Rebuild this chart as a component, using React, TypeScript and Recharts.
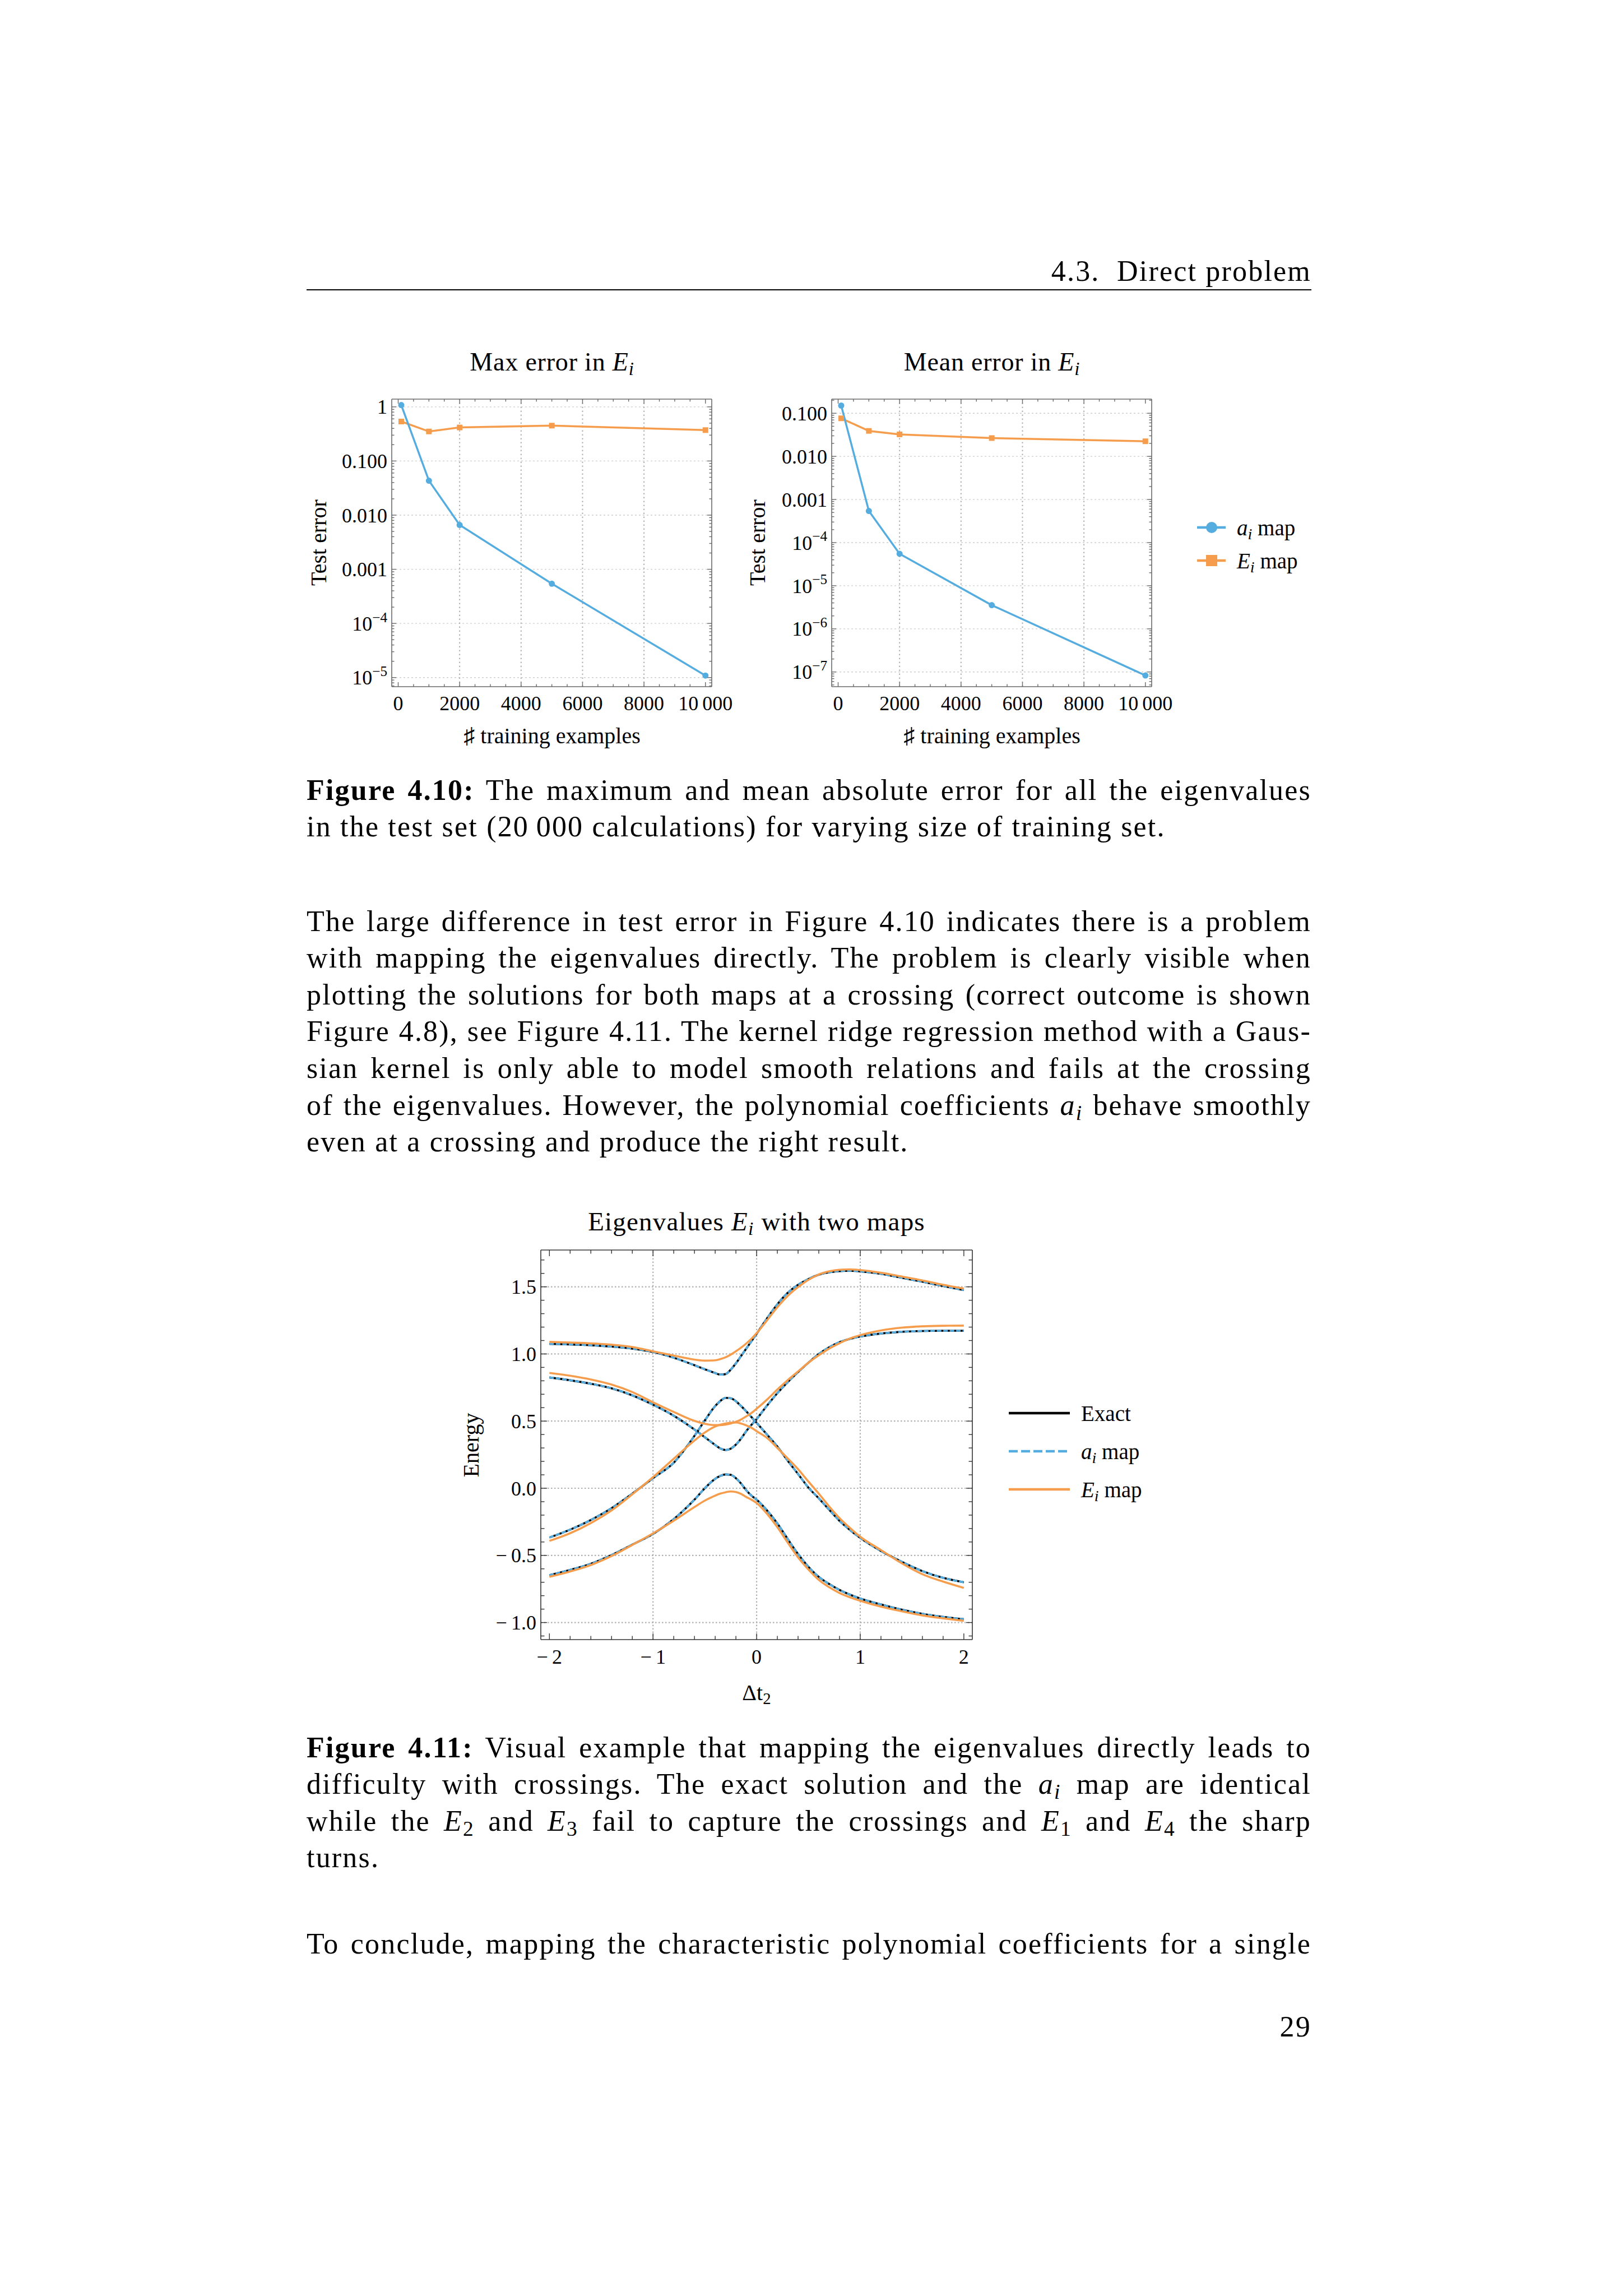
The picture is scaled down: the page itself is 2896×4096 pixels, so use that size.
import React from "react";
import { LineChart, Line, XAxis, YAxis, ReferenceLine } from "recharts";

const SERIF = '"Liberation Serif", "DejaVu Serif", serif';
const BLUE = "#55acdf";
const ORANGE = "#f59d4c";
const GRID = "#b0b0b0";
const FRAME = "#6a6a6a";

// Figure 4.10 – test error vs training set size
const TRAIN_SIZES = [100, 1000, 2000, 5000, 10000];
const MAX_AI = [1.08, 0.0433, 0.00658, 0.000542, 0.0000109];
const MAX_EI = [0.536, 0.351, 0.416, 0.45, 0.372];
const MEAN_AI = [0.151, 0.000542, 0.000055, 0.00000354, 0.000000083];
const MEAN_EI = [0.0763, 0.039, 0.0324, 0.0266, 0.0224];

const TRAIN_TICKS = [0, 2000, 4000, 6000, 8000, 10000];
const TRAIN_TICK_LABELS = ["0", "2000", "4000", "6000", "8000", "10\u2009000"];
const TRAIN_GRID = [2000, 4000, 6000, 8000];
const MAX_TICKS = [1, 0.1, 0.01, 0.001, 1e-4, 1e-5];
const MAX_TICK_LABELS = ["1", "0.100", "0.010", "0.001", "10^\u22124", "10^\u22125"];
const MEAN_TICKS = [0.1, 0.01, 0.001, 1e-4, 1e-5, 1e-6, 1e-7];
const MEAN_TICK_LABELS = ["0.100", "0.010", "0.001", "10^\u22124", "10^\u22125", "10^\u22126", "10^\u22127"];

// Figure 4.11 – eigenvalues along Δt2
const DT2 = [-2, -1.8, -1.6, -1.4, -1.2, -1, -0.8, -0.6, -0.5, -0.4, -0.35, -0.3, -0.25, -0.2, -0.15, -0.1, -0.05, 0,
  0.1, 0.2, 0.3, 0.4, 0.5, 0.6, 0.7, 0.8, 0.9, 1, 1.2, 1.4, 1.6, 1.8, 2];
const EXACT_E4 = [1.075, 1.071, 1.065, 1.055, 1.04, 1.015, 0.972, 0.916, 0.886, 0.858, 0.846, 0.85, 0.883, 0.93, 0.985, 1.04, 1.095, 1.15,
  1.265, 1.37, 1.455, 1.515, 1.558, 1.59, 1.608, 1.617, 1.62, 1.615, 1.597, 1.568, 1.538, 1.506, 1.476];
const EXACT_E3 = [0.825, 0.804, 0.778, 0.744, 0.692, 0.622, 0.54, 0.437, 0.38, 0.322, 0.296, 0.285, 0.295, 0.325, 0.37, 0.425, 0.472, 0.515,
  0.615, 0.708, 0.79, 0.865, 0.935, 1.0, 1.05, 1.088, 1.112, 1.13, 1.152, 1.165, 1.171, 1.173, 1.173];
const EXACT_E2 = [-0.367, -0.308, -0.236, -0.148, -0.04, 0.075, 0.19, 0.39, 0.505, 0.612, 0.65, 0.673, 0.67, 0.648, 0.612, 0.573, 0.53, 0.487,
  0.4, 0.31, 0.205, 0.106, 0.005, -0.075, -0.16, -0.243, -0.31, -0.37, -0.467, -0.547, -0.617, -0.667, -0.7];
const EXACT_E1 = [-0.647, -0.608, -0.562, -0.497, -0.42, -0.34, -0.23, -0.085, 0.0, 0.07, 0.092, 0.103, 0.1, 0.075, 0.035, -0.015, -0.055, -0.085,
  -0.165, -0.262, -0.378, -0.49, -0.585, -0.66, -0.713, -0.757, -0.792, -0.821, -0.865, -0.904, -0.935, -0.958, -0.975];
const EMAP_E4 = [1.09, 1.085, 1.079, 1.069, 1.052, 1.02, 0.988, 0.958, 0.95, 0.953, 0.962, 0.975, 0.995, 1.02, 1.047, 1.078, 1.113, 1.155,
  1.25, 1.348, 1.432, 1.498, 1.552, 1.592, 1.615, 1.627, 1.63, 1.625, 1.605, 1.577, 1.548, 1.515, 1.487];
const EMAP_E3 = [0.859, 0.838, 0.81, 0.772, 0.716, 0.64, 0.568, 0.502, 0.48, 0.47, 0.47, 0.474, 0.482, 0.495, 0.512, 0.535, 0.561, 0.592,
  0.66, 0.735, 0.805, 0.87, 0.935, 0.99, 1.04, 1.08, 1.115, 1.14, 1.175, 1.196, 1.206, 1.21, 1.211];
const EMAP_E2 = [-0.392, -0.335, -0.259, -0.165, -0.045, 0.083, 0.22, 0.355, 0.415, 0.46, 0.474, 0.482, 0.488, 0.49, 0.482, 0.468, 0.45, 0.425,
  0.375, 0.3, 0.222, 0.142, 0.05, -0.04, -0.135, -0.222, -0.295, -0.361, -0.46, -0.558, -0.64, -0.695, -0.742];
const EMAP_E1 = [-0.66, -0.62, -0.572, -0.505, -0.422, -0.336, -0.242, -0.14, -0.092, -0.055, -0.04, -0.03, -0.024, -0.028, -0.042, -0.065, -0.085, -0.11,
  -0.19, -0.29, -0.405, -0.515, -0.605, -0.682, -0.737, -0.78, -0.812, -0.838, -0.882, -0.916, -0.947, -0.969, -0.987];

const DT_TICKS = [-2, -1, 0, 1, 2];
const DT_TICK_LABELS = ["\u2212\u20092", "\u2212\u20091", "0", "1", "2"];
const DT_GRID = [-1, 0, 1];
const ENERGY_TICKS = [-1, -0.5, 0, 0.5, 1, 1.5];
const ENERGY_TICK_LABELS = ["\u2212\u20091.0", "\u2212\u20090.5", "0.0", "0.5", "1.0", "1.5"];

const PAD = 170;
const BODY = 52;
const BODY_SPACING = "2.2px";
const TEXT_X = 547;
const TEXT_W = 1793;

const round = (v: number) => Math.round(v * 1000) / 1000;
const steps = (from: number, to: number, step: number) =>
  Array.from({ length: Math.round((to - from) / step) + 1 }, (_, i) => round(from + i * step));
const logTicks = (lo: number, hi: number) => {
  const out: number[] = [];
  for (let e = -9; e <= 1; e++) for (let k = 1; k <= 9; k++) {
    const v = k * Math.pow(10, e);
    if (v >= lo && v <= hi) out.push(v);
  }
  return out;
};

type Side = "bottom" | "top" | "left" | "right";

function tickText(label: string, x: number, y: number, anchor: string, fs: number) {
  const [base, sup] = label.split("^");
  return (
    <text x={x} y={y} dy={fs * 0.35} textAnchor={anchor} fontSize={fs} fontFamily={SERIF} fill="#000">
      {base}
      {sup && <tspan dy={-fs * 0.42} fontSize={fs * 0.7}>{sup}</tspan>}
    </text>
  );
}

function makeTick(side: Side, majors: number[], labels: string[] | null, majorLen: number, minorLen: number, color: string, fs = 36, gap = 8) {
  return (p: any) => {
    const v = Number(p.payload.value);
    const idx = majors.findIndex((m) => Math.abs(m - v) <= Math.abs(m) * 1e-6 + 1e-12);
    const len = idx >= 0 ? majorLen : minorLen;
    const x = Number(p.x);
    const y = Number(p.y);
    const dx = side === "left" ? len : side === "right" ? -len : 0;
    const dy = side === "top" ? len : side === "bottom" ? -len : 0;
    let label = null;
    if (labels && idx >= 0) {
      if (side === "bottom") label = tickText(labels[idx], x, y + gap, "middle", fs);
      if (side === "left") label = tickText(labels[idx], x - gap, y, "end", fs);
    }
    return (
      <g>
        <line x1={x} y1={y} x2={x + dx} y2={y + dy} stroke={color} strokeWidth={1.4} />
        {label}
      </g>
    );
  };
}

const axisBase = { tickSize: 0, tickMargin: 0, tickLine: false, interval: 0 as const, allowDataOverflow: true };

function Sq(props: any) {
  const { cx, cy, index } = props;
  if (cx == null || cy == null) return <g key={`sq-${index}`} />;
  return <rect key={`sq-${index}`} x={cx - 5} y={cy - 5} width={10} height={10} fill={ORANGE} />;
}

function Label({ x, y, size, rotate, spacing, children }: { x: number; y: number; size: number; rotate?: boolean; spacing?: number; children: React.ReactNode }) {
  return (
    <div
      style={{
        position: "absolute", left: x, top: y, fontSize: size, lineHeight: 1, whiteSpace: "nowrap", fontFamily: SERIF,
        letterSpacing: spacing ? `${spacing}px` : undefined,
        transform: `translate(-50%, -50%)${rotate ? " rotate(-90deg)" : ""}`,
      }}
    >
      {children}
    </div>
  );
}

const subStyle: React.CSSProperties = { fontSize: "0.72em", verticalAlign: "-0.25em", lineHeight: 0 };
const Mi = ({ b, s, it = true }: { b: string; s: string; it?: boolean }) => (
  <span><i>{b}</i><sub style={subStyle}>{it ? <i>{s}</i> : s}</sub></span>
);

function TextLine({ baseline, justify = true, children }: { baseline: number; justify?: boolean; children: React.ReactNode }) {
  return (
    <div
      style={{
        position: "absolute", left: TEXT_X, top: baseline - 0.8375 * BODY, width: TEXT_W, fontSize: BODY,
        lineHeight: `${BODY}px`, fontFamily: SERIF, letterSpacing: BODY_SPACING,
        textAlign: justify ? "justify" : "left", textAlignLast: justify ? "justify" : "left",
      }}
    >
      {children}
    </div>
  );
}

// plot box edges are given in page pixels; axes take 1px so the margins are PAD - 1
const M = { top: PAD - 1, right: PAD - 1, bottom: PAD - 1, left: PAD - 1 };

function ErrorChart({ x0, y0, x1, y1, ai, ei, yDomain, yTicks, yLabels }: {
  x0: number; y0: number; x1: number; y1: number; ai: number[]; ei: number[];
  yDomain: [number, number]; yTicks: number[]; yLabels: string[];
}) {
  const data = TRAIN_SIZES.map((n, i) => ({ n, ai: ai[i], ei: ei[i] }));
  const xAll = steps(0, 10000, 500);
  const yAll = logTicks(yDomain[0], yDomain[1]);
  const xDomain: [number, number] = [-210, 10205];
  const line = { stroke: FRAME, strokeWidth: 1.6 };
  return (
    <div style={{ position: "absolute", left: x0 - PAD, top: y0 - PAD }}>
      <LineChart width={x1 - x0 + 2 * PAD} height={y1 - y0 + 2 * PAD} data={data} margin={M}>
        <XAxis dataKey="n" type="number" domain={xDomain} ticks={xAll} height={1} {...axisBase} axisLine={line}
          tick={makeTick("bottom", TRAIN_TICKS, TRAIN_TICK_LABELS, 8, 4.5, FRAME, 36, 29)} />
        <XAxis xAxisId="top" orientation="top" dataKey="n" type="number" domain={xDomain} ticks={xAll} height={1} {...axisBase} axisLine={line}
          tick={makeTick("top", TRAIN_TICKS, null, 8, 4.5, FRAME)} />
        <YAxis type="number" scale="log" domain={yDomain} ticks={yAll} width={1} {...axisBase} axisLine={line}
          tick={makeTick("left", yTicks, yLabels, 8, 4.5, FRAME, 36, 8)} />
        <YAxis yAxisId="right" orientation="right" type="number" scale="log" domain={yDomain} ticks={yAll} width={1} {...axisBase} axisLine={line}
          tick={makeTick("right", yTicks, null, 8, 4.5, FRAME)} />
        {yTicks.map((v) => (
          <ReferenceLine key={`h${v}`} y={v} stroke="#cdcdcd" strokeWidth={1.3} strokeDasharray="3 4" />
        ))}
        {TRAIN_GRID.map((v) => (
          <ReferenceLine key={`v${v}`} x={v} stroke={GRID} strokeWidth={2} strokeDasharray="2.5 4.5" />
        ))}
        <Line xAxisId="top" yAxisId="right" dataKey="ai" stroke="none" dot={false} activeDot={false} isAnimationActive={false} legendType="none" />
        <Line dataKey="ei" stroke={ORANGE} strokeWidth={3.5} dot={<Sq />} activeDot={false} isAnimationActive={false} />
        <Line dataKey="ai" stroke={BLUE} strokeWidth={3.5} dot={{ r: 5.5, fill: BLUE, stroke: "none" }} activeDot={false} isAnimationActive={false} />
      </LineChart>
    </div>
  );
}

function EigenChart() {
  const x0 = 965, y0 = 2230, x1 = 1735, y1 = 2925;
  const data = DT2.map((x, i) => ({
    x, e1: EXACT_E1[i], e2: EXACT_E2[i], e3: EXACT_E3[i], e4: EXACT_E4[i],
    m1: EMAP_E1[i], m2: EMAP_E2[i], m3: EMAP_E3[i], m4: EMAP_E4[i],
  }));
  const xDomain: [number, number] = [-2.083, 2.082];
  const yDomain: [number, number] = [-1.127, 1.774];
  const xAll = steps(-2, 2, 0.2);
  const yAll = steps(-1.1, 1.7, 0.1);
  const keys = ["e1", "e2", "e3", "e4"];
  const mapKeys = ["m1", "m2", "m3", "m4"];
  const line = { stroke: "#333", strokeWidth: 1.6 };
  return (
    <div style={{ position: "absolute", left: x0 - PAD, top: y0 - PAD }}>
      <LineChart width={x1 - x0 + 2 * PAD} height={y1 - y0 + 2 * PAD} data={data} margin={M}>
        <XAxis dataKey="x" type="number" domain={xDomain} ticks={xAll} height={1} {...axisBase} axisLine={line}
          tick={makeTick("bottom", DT_TICKS, DT_TICK_LABELS, 11, 6.5, "#333", 36, 30)} />
        <XAxis xAxisId="top" orientation="top" dataKey="x" type="number" domain={xDomain} ticks={xAll} height={1} {...axisBase} axisLine={line}
          tick={makeTick("top", DT_TICKS, null, 11, 6.5, "#333")} />
        <YAxis type="number" domain={yDomain} ticks={yAll} width={1} {...axisBase} axisLine={line}
          tick={makeTick("left", ENERGY_TICKS, ENERGY_TICK_LABELS, 11, 6.5, "#333", 36, 8)} />
        <YAxis yAxisId="right" orientation="right" type="number" domain={yDomain} ticks={yAll} width={1} {...axisBase} axisLine={line}
          tick={makeTick("right", ENERGY_TICKS, null, 11, 6.5, "#333")} />
        {ENERGY_TICKS.map((v) => (
          <ReferenceLine key={`h${v}`} y={v} stroke={GRID} strokeWidth={2.2} strokeDasharray="2.5 3.5" />
        ))}
        {DT_GRID.map((v) => (
          <ReferenceLine key={`v${v}`} x={v} stroke={GRID} strokeWidth={2.2} strokeDasharray="2.5 3.5" />
        ))}
        <Line xAxisId="top" yAxisId="right" dataKey="e1" stroke="none" dot={false} activeDot={false} isAnimationActive={false} legendType="none" />
        {keys.map((k) => (
          <Line key={`ex-${k}`} dataKey={k} type="monotone" stroke="#000" strokeWidth={3.6} dot={false} activeDot={false} isAnimationActive={false} />
        ))}
        {keys.map((k) => (
          <Line key={`ai-${k}`} dataKey={k} type="monotone" stroke={BLUE} strokeWidth={3.6} strokeDasharray="8 3.5" dot={false} activeDot={false} isAnimationActive={false} />
        ))}
        {mapKeys.map((k) => (
          <Line key={`em-${k}`} dataKey={k} type="monotone" stroke={ORANGE} strokeWidth={3.6} dot={false} activeDot={false} isAnimationActive={false} />
        ))}
      </LineChart>
    </div>
  );
}

const legendText: React.CSSProperties = { position: "absolute", transform: "translateY(-50%)", fontSize: 39, lineHeight: 1, whiteSpace: "nowrap" };

export default function App() {
  return (
    <div style={{ position: "absolute", left: 0, top: 0, width: 2896, height: 4096, background: "#fff", overflow: "hidden", fontFamily: SERIF, color: "#000" }}>
      {/* running header */}
      <div style={{ position: "absolute", left: TEXT_X, top: 502 - 0.8375 * BODY, width: TEXT_W, textAlign: "right", fontSize: BODY, lineHeight: `${BODY}px`, letterSpacing: BODY_SPACING }}>
        4.3.{"\u00a0\u00a0"}Direct problem
      </div>
      <div style={{ position: "absolute", left: TEXT_X, top: 516, width: TEXT_W, height: 2, background: "#000" }} />

      {/* Figure 4.10 */}
      <Label x={985} y={646} size={46} spacing={0.8}>Max error in <Mi b="E" s="i" /></Label>
      <Label x={1770} y={646} size={46} spacing={0.8}>Mean error in <Mi b="E" s="i" /></Label>
      <ErrorChart x0={699} y0={712} x1={1270} y1={1225} ai={MAX_AI} ei={MAX_EI}
        yDomain={[6.79e-6, 1.39]} yTicks={MAX_TICKS} yLabels={MAX_TICK_LABELS} />
      <ErrorChart x0={1484} y0={712} x1={2055} y1={1225} ai={MEAN_AI} ei={MEAN_EI}
        yDomain={[4.56e-8, 0.213]} yTicks={MEAN_TICKS} yLabels={MEAN_TICK_LABELS} />
      <Label x={985} y={1313} size={40}>{"\u266f"} training examples</Label>
      <Label x={1770} y={1313} size={40}>{"\u266f"} training examples</Label>
      <Label x={569} y={968} size={40} rotate>Test error</Label>
      <Label x={1352} y={968} size={40} rotate>Test error</Label>

      <svg style={{ position: "absolute", left: 2120, top: 900 }} width={80} height={140}>
        <line x1={16} y1={41} x2={67} y2={41} stroke={BLUE} strokeWidth={4.5} />
        <circle cx={42} cy={41} r={10} fill={BLUE} />
        <line x1={16} y1={100} x2={67} y2={100} stroke={ORANGE} strokeWidth={4.5} />
        <rect x={32} y={90} width={20} height={20} fill={ORANGE} />
      </svg>
      <div style={{ ...legendText, left: 2207, top: 941 }}><Mi b="a" s="i" /> map</div>
      <div style={{ ...legendText, left: 2207, top: 1000 }}><Mi b="E" s="i" /> map</div>

      <TextLine baseline={1428}><b>Figure 4.10:</b> The maximum and mean absolute error for all the eigenvalues</TextLine>
      <TextLine baseline={1493} justify={false}>in the test set (20{"\u2009"}000 calculations) for varying size of training set.</TextLine>

      <TextLine baseline={1662}>The large difference in test error in Figure 4.10 indicates there is a problem</TextLine>
      <TextLine baseline={1727}>with mapping the eigenvalues directly. The problem is clearly visible when</TextLine>
      <TextLine baseline={1793}>plotting the solutions for both maps at a crossing (correct outcome is shown</TextLine>
      <TextLine baseline={1858}>Figure 4.8), see Figure 4.11. The kernel ridge regression method with a Gaus-</TextLine>
      <TextLine baseline={1924}>sian kernel is only able to model smooth relations and fails at the crossing</TextLine>
      <TextLine baseline={1990}>of the eigenvalues. However, the polynomial coefficients <Mi b="a" s="i" /> behave smoothly</TextLine>
      <TextLine baseline={2055} justify={false}>even at a crossing and produce the right result.</TextLine>

      {/* Figure 4.11 */}
      <Label x={1350} y={2179} size={47} spacing={1.2}>Eigenvalues <Mi b="E" s="i" /> with two maps</Label>
      <EigenChart />
      <Label x={1350} y={3020} size={40}>{"\u0394"}t<sub style={subStyle}>2</sub></Label>
      <Label x={841} y={2578} size={40} rotate>Energy</Label>

      <svg style={{ position: "absolute", left: 1790, top: 2480 }} width={130} height={220}>
        <line x1={10} y1={41} x2={119} y2={41} stroke="#000" strokeWidth={4.3} />
        <line x1={10} y1={109} x2={119} y2={109} stroke={BLUE} strokeWidth={4.3} strokeDasharray="16 6" />
        <line x1={10} y1={177} x2={119} y2={177} stroke={ORANGE} strokeWidth={4.3} />
      </svg>
      <div style={{ ...legendText, left: 1929, top: 2521 }}>Exact</div>
      <div style={{ ...legendText, left: 1929, top: 2589 }}><Mi b="a" s="i" /> map</div>
      <div style={{ ...legendText, left: 1929, top: 2657 }}><Mi b="E" s="i" /> map</div>

      <TextLine baseline={3136}><b>Figure 4.11:</b> Visual example that mapping the eigenvalues directly leads to</TextLine>
      <TextLine baseline={3201}>difficulty with crossings. The exact solution and the <Mi b="a" s="i" /> map are identical</TextLine>
      <TextLine baseline={3267}>while the <Mi b="E" s="2" it={false} /> and <Mi b="E" s="3" it={false} /> fail to capture the crossings and <Mi b="E" s="1" it={false} /> and <Mi b="E" s="4" it={false} /> the sharp</TextLine>
      <TextLine baseline={3332} justify={false}>turns.</TextLine>

      <TextLine baseline={3486}>To conclude, mapping the characteristic polynomial coefficients for a single</TextLine>

      <div style={{ position: "absolute", left: TEXT_X, top: 3634 - 0.8375 * BODY, width: TEXT_W, textAlign: "right", fontSize: BODY, lineHeight: `${BODY}px`, letterSpacing: BODY_SPACING }}>
        29
      </div>
    </div>
  );
}
